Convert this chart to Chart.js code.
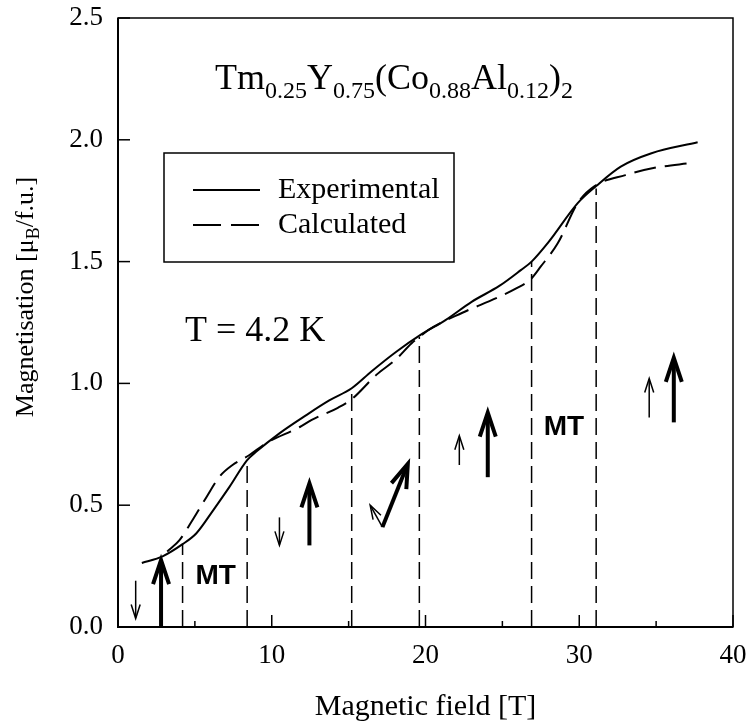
<!DOCTYPE html>
<html><head><meta charset="utf-8">
<script src="https://cdn.jsdelivr.net/npm/chart.js@4/dist/chart.umd.min.js"></script>
<style>html,body{margin:0;padding:0;background:#fff}canvas{display:block}</style>
</head><body>
<canvas id="c" width="747" height="725"></canvas>
<script>
// Measured magnetisation curve (field in T, moment in μB/f.u.)
const expField = [1.55, 2.9, 4.2, 5.1, 6.2, 7.25, 8.4, 9.0, 10.5, 12.25, 13.74, 15.2, 16.5, 18.1, 19.7, 21.3, 23.0, 24.8, 26.2, 26.9, 28.0, 29.9, 31.1, 32.7, 34.7, 37.7];
const expMag   = [0.263, 0.29, 0.34, 0.385, 0.48, 0.575, 0.685, 0.72, 0.795, 0.87, 0.93, 0.98, 1.05, 1.13, 1.20, 1.26, 1.335, 1.40, 1.465, 1.50, 1.58, 1.74, 1.81, 1.89, 1.945, 1.99];
// Model curve
const calcField = [3.2, 4.0, 4.86, 5.77, 6.6, 7.45, 8.55, 9.65, 11.8, 12.6, 14.3, 15.2, 16.8, 18.1, 19.1, 19.7, 20.2, 22.4, 24.6, 25.9, 26.8, 27.5, 28.6, 29.9, 31.0, 33.0, 34.9, 37.3];
const calcMag   = [0.31, 0.357, 0.44, 0.535, 0.617, 0.665, 0.706, 0.755, 0.82, 0.85, 0.90, 0.935, 1.035, 1.10, 1.165, 1.195, 1.22, 1.29, 1.35, 1.39, 1.425, 1.48, 1.575, 1.74, 1.81, 1.855, 1.885, 1.905];
// Phase boundaries: field and the magnetisation where the marker stops
const boundaryField = [4.2, 8.4, 15.2, 19.6, 26.9, 31.1];
const boundaryMag   = [0.34, 0.685, 0.98, 1.19, 1.50, 1.80];
// Moment arrows [fieldStart, magStart, fieldEnd, magEnd]
const thinArrows  = [[1.15, 0.19, 1.15, 0.035], [10.5, 0.45, 10.5, 0.335], [17.2, 0.41, 16.4, 0.50], [22.2, 0.665, 22.2, 0.785], [34.55, 0.86, 34.55, 1.02]];
const thickArrows = [[2.8, 0.0, 2.8, 0.275], [12.45, 0.335, 12.45, 0.59], [17.2, 0.41, 18.85, 0.67], [24.05, 0.615, 24.05, 0.88], [36.15, 0.84, 36.15, 1.105]];
// "MT" (metamagnetic transition) labels [field, mag]
const mtLabels = [[6.35, 0.21], [29.0, 0.82]];
const xMajorTicks = [0, 10, 20, 30, 40];
const xMinorTicks = [5, 15, 25, 35];
const yTicks = [0, 0.5, 1.0, 1.5, 2.0, 2.5];

const SERIF = '"Liberation Serif", "Times New Roman", serif';
const SANS = '"Liberation Sans", Arial, sans-serif';

const pts = (xs, ys) => xs.map((x, i) => ({x, y: ys[i]}));

const datasets = [
  {label: 'Experimental', data: pts(expField, expMag), showLine: true, borderColor: '#000', borderWidth: 2,
   pointRadius: 0, cubicInterpolationMode: 'monotone', fill: false},
  {label: 'Calculated', data: pts(calcField, calcMag), showLine: true, borderColor: '#000', borderWidth: 2,
   borderDash: [22, 9], pointRadius: 0, cubicInterpolationMode: 'monotone', fill: false}
];
boundaryField.forEach((f, i) => datasets.push({
  label: 'boundary' + i, data: [{x: f, y: 0}, {x: f, y: boundaryMag[i]}], showLine: true,
  borderColor: '#000', borderWidth: 1.5, borderDash: [17, 7], pointRadius: 0, fill: false
}));

function drawRuns(ctx, cx, y, runs) {
  let w = 0;
  runs.forEach(r => { ctx.font = r.font; w += ctx.measureText(r.t).width; });
  let x = cx - w / 2;
  ctx.textAlign = 'left';
  ctx.textBaseline = 'alphabetic';
  runs.forEach(r => { ctx.font = r.font; ctx.fillText(r.t, x, y + (r.dy || 0)); x += ctx.measureText(r.t).width; });
}

function arrow(ctx, x0, y0, x1, y1, lw, head, half) {
  const a = Math.atan2(y1 - y0, x1 - x0);
  ctx.lineWidth = lw;
  ctx.lineCap = 'butt';
  ctx.lineJoin = 'miter';
  ctx.beginPath();
  ctx.moveTo(x0, y0);
  ctx.lineTo(x1 - Math.cos(a) * lw * 0.6, y1 - Math.sin(a) * lw * 0.6);
  ctx.stroke();
  const bx = x1 - Math.cos(a) * head, by = y1 - Math.sin(a) * head;
  const nx = -Math.sin(a), ny = Math.cos(a);
  ctx.beginPath();
  ctx.moveTo(bx + nx * half, by + ny * half);
  ctx.lineTo(x1, y1);
  ctx.lineTo(bx - nx * half, by - ny * half);
  ctx.stroke();
}

const decor = {
  id: 'decor',
  afterDraw(chart) {
    const {ctx, chartArea: ca, scales: {x, y}} = chart;
    ctx.save();
    ctx.strokeStyle = '#000';
    ctx.fillStyle = '#000';
    ctx.setLineDash([]);
    // frame
    ctx.lineWidth = 1.5;
    ctx.strokeRect(ca.left, ca.top, ca.right - ca.left, ca.bottom - ca.top);
    ctx.lineWidth = 2;
    ctx.beginPath();
    ctx.moveTo(ca.left, ca.top); ctx.lineTo(ca.left, ca.bottom); ctx.lineTo(ca.right, ca.bottom);
    ctx.stroke();
    // inward ticks
    ctx.lineWidth = 1.5;
    xMajorTicks.forEach(v => { const px = x.getPixelForValue(v); ctx.beginPath(); ctx.moveTo(px, ca.bottom); ctx.lineTo(px, ca.bottom - 12); ctx.stroke(); });
    xMinorTicks.forEach(v => { const px = x.getPixelForValue(v); ctx.beginPath(); ctx.moveTo(px, ca.bottom); ctx.lineTo(px, ca.bottom - 6); ctx.stroke(); });
    yTicks.forEach(v => { const py = y.getPixelForValue(v); ctx.beginPath(); ctx.moveTo(ca.left, py); ctx.lineTo(ca.left + 12, py); ctx.stroke(); });
    // moment arrows
    thinArrows.forEach(a => arrow(ctx, x.getPixelForValue(a[0]), y.getPixelForValue(a[1]), x.getPixelForValue(a[2]), y.getPixelForValue(a[3]), 1.5, 14, 4.5));
    thickArrows.forEach(a => arrow(ctx, x.getPixelForValue(a[0]), y.getPixelForValue(a[1]), x.getPixelForValue(a[2]), y.getPixelForValue(a[3]), 4, 24, 8));
    // MT labels
    ctx.font = 'bold 28px ' + SANS;
    ctx.textAlign = 'center';
    ctx.textBaseline = 'middle';
    mtLabels.forEach(m => ctx.fillText('MT', x.getPixelForValue(m[0]), y.getPixelForValue(m[1])));
    // compound formula
    const big = '36px ' + SERIF, sub = '24px ' + SERIF;
    drawRuns(ctx, 394, 89, [
      {t: 'Tm', font: big}, {t: '0.25', font: sub, dy: 9}, {t: 'Y', font: big}, {t: '0.75', font: sub, dy: 9},
      {t: '(Co', font: big}, {t: '0.88', font: sub, dy: 9}, {t: 'Al', font: big}, {t: '0.12', font: sub, dy: 9},
      {t: ')', font: big}, {t: '2', font: sub, dy: 9}
    ]);
    // temperature
    ctx.font = '36px ' + SERIF;
    ctx.textAlign = 'left';
    ctx.textBaseline = 'middle';
    ctx.fillText('T = 4.2 K', 185, 332);
    // legend
    ctx.lineWidth = 1.5;
    ctx.strokeRect(164, 153, 290, 109);
    ctx.lineWidth = 2;
    ctx.beginPath(); ctx.moveTo(193, 190); ctx.lineTo(260, 190); ctx.stroke();
    ctx.setLineDash([28, 10]);
    ctx.beginPath(); ctx.moveTo(193, 225); ctx.lineTo(260, 225); ctx.stroke();
    ctx.setLineDash([]);
    ctx.font = '30px ' + SERIF;
    ctx.fillText('Experimental', 278, 190);
    ctx.fillText('Calculated', 278, 225);
    // axis titles
    ctx.font = '30px ' + SERIF;
    ctx.textAlign = 'center';
    ctx.textBaseline = 'alphabetic';
    ctx.fillText('Magnetic field [T]', (ca.left + ca.right) / 2, 715);
    ctx.translate(33, 297);
    ctx.rotate(-Math.PI / 2);
    drawRuns(ctx, 0, 0, [
      {t: 'Magnetisation [μ', font: '26px ' + SERIF}, {t: 'B', font: '18px ' + SERIF, dy: 6},
      {t: '/f.u.]', font: '26px ' + SERIF}
    ]);
    ctx.restore();
  }
};

new Chart(document.getElementById('c'), {
  type: 'scatter',
  data: {datasets},
  options: {
    responsive: false,
    animation: false,
    layout: {padding: {top: 18, right: 14, left: 0, bottom: 0}},
    plugins: {legend: {display: false}, tooltip: {enabled: false}},
    scales: {
      x: {
        type: 'linear', min: 0, max: 40,
        afterBuildTicks(s) { s.ticks = xMajorTicks.map(v => ({value: v})); },
        ticks: {color: '#000', font: {family: SERIF, size: 27}, padding: 13, maxRotation: 0},
        grid: {display: false, drawTicks: false},
        border: {display: false},
        afterFit(s) { s.height = 98; s.paddingLeft = 0; s.paddingRight = 0; }
      },
      y: {
        type: 'linear', min: 0, max: 2.5,
        afterBuildTicks(s) { s.ticks = yTicks.map(v => ({value: v})); },
        ticks: {color: '#000', font: {family: SERIF, size: 27}, padding: 15, callback: v => v.toFixed(1)},
        grid: {display: false, drawTicks: false},
        border: {display: false},
        afterFit(s) { s.width = 118; s.paddingTop = 0; s.paddingBottom = 0; }
      }
    }
  },
  plugins: [decor]
});
</script>
</body></html>
